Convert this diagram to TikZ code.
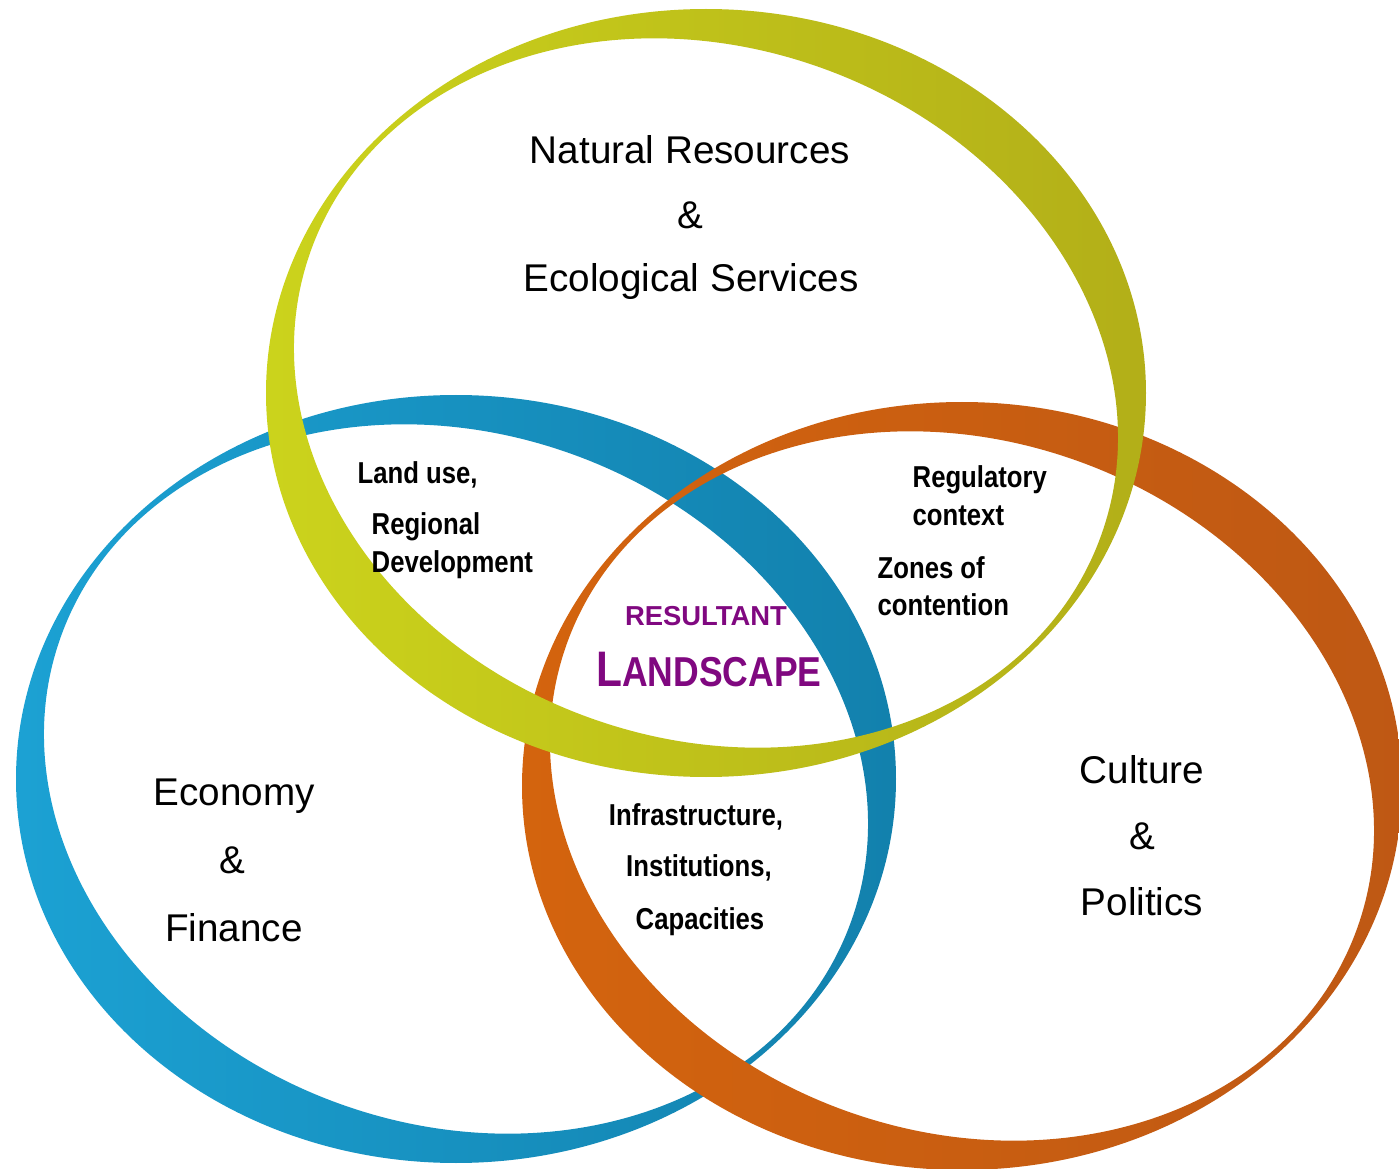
\documentclass[tikz,border=0pt]{standalone}
\usepackage{fontspec}
\setmainfont{Liberation Sans}
\newfontfamily\labelfont[FakeStretch=0.85,BoldFeatures={FakeStretch=0.85}]{Liberation Sans}
\definecolor{natlight}{RGB}{204,212,28}
\definecolor{natdark}{RGB}{178,174,24}
\definecolor{econlight}{RGB}{28,162,212}
\definecolor{econdark}{RGB}{18,128,172}
\definecolor{cultlight}{RGB}{212,100,14}
\definecolor{cultdark}{RGB}{190,88,20}
\definecolor{landpurple}{RGB}{128,8,128}
\begin{document}
\begin{tikzpicture}[
    outer/.style={x radius=4.40, y radius=3.84},
    inner/.style={x radius=4.20, y radius=3.45, rotate=-20},
    big/.style={font=\fontsize{11}{13}\selectfont},
    small/.style={font=\labelfont\bfseries\fontsize{8.6}{10}\selectfont, anchor=west, inner sep=0pt},
    mid/.style={font=\labelfont\bfseries\fontsize{8.6}{10}\selectfont, inner sep=0pt}]
    \useasboundingbox (0,0) rectangle (13.99,11.68);
    \coordinate (econ) at (4.56,3.89);
    \coordinate (cult) at (9.62,3.82);
    \coordinate (nat) at (7.06,7.75);
    \shade [even odd rule, left color=econlight, right color=econdark] (econ) ellipse [outer] (econ) ellipse [inner];
    \shade [even odd rule, left color=cultlight, right color=cultdark] (cult) ellipse [outer] (cult) ellipse [inner];
    \shade [even odd rule, left color=natlight, right color=natdark] (nat) ellipse [outer] (nat) ellipse [inner];
    \node [big] (natres) at (6.90,10.18) {Natural Resources};
    \node [big] (natamp) at (6.90,9.53) {\&};
    \node [big] (ecoserv) at (6.91,8.86) {Ecological Services};
    \node [big] (economy) at (2.34,3.72) {Economy};
    \node [big] (econamp) at (2.32,3.08) {\&};
    \node [big] (finance) at (2.34,2.40) {Finance};
    \node [big] (culture) at (11.42,3.98) {Culture};
    \node [big] (cultamp) at (11.42,3.32) {\&};
    \node [big] (politics) at (11.42,2.66) {Politics};
    \node [small] (landuse) at (3.57,6.93) {Land use,};
    \node [small] (regional) at (3.71,6.41) {Regional};
    \node [small] (develop) at (3.71,6.03) {Development};
    \node [small] (regul) at (9.12,6.88) {Regulatory};
    \node [small] (context) at (9.12,6.52) {context};
    \node [small] (zones) at (8.77,6.00) {Zones of};
    \node [small] (contention) at (8.77,5.63) {contention};
    \node [mid] (infra) at (6.96,3.51) {Infrastructure,};
    \node [mid] (instit) at (6.99,3.00) {Institutions,};
    \node [mid] (capac) at (7.00,2.46) {Capacities};
    \node [text=landpurple, font=\bfseries\fontsize{7.8}{9}\selectfont] (resultant) at (7.06,5.52) {RESULTANT};
    \node [text=landpurple, font=\labelfont\bfseries] (landscape) at (7.09,4.98) {{\fontsize{14.2}{16}\selectfont L}{\fontsize{11.9}{14}\selectfont ANDSCAPE}};
\end{tikzpicture}
\end{document}
